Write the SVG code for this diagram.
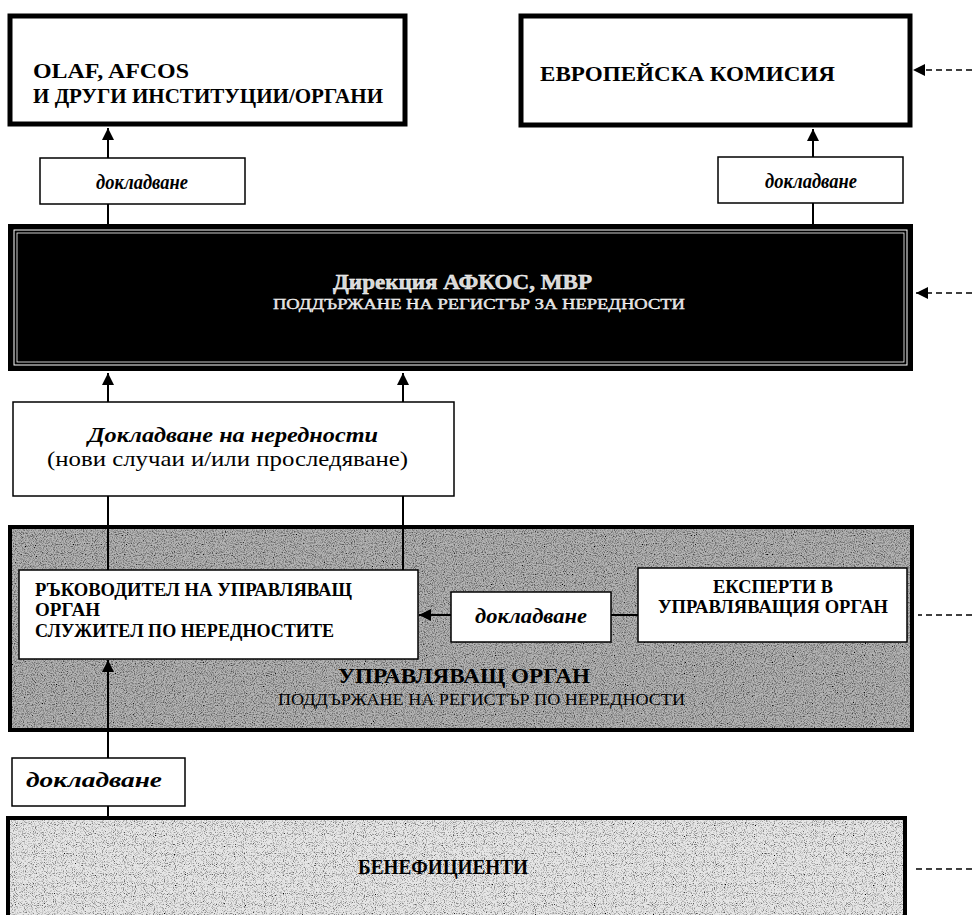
<svg xmlns="http://www.w3.org/2000/svg" width="972" height="915" viewBox="0 0 972 915">
<defs>
<style>
.t{font-family:"Liberation Serif","Times New Roman",serif;fill:#000}
.b{font-weight:bold}
.i{font-style:italic;font-weight:bold}
.box{fill:#fff;stroke:#000;stroke-width:1.5}
.thick{fill:#fff;stroke:#000;stroke-width:5}
.ln{stroke:#000;stroke-width:2;fill:none}
.dash{stroke:#000;stroke-width:1.5;stroke-dasharray:6,4;fill:none}
.w{fill:#d8d8d8;stroke:#fff;stroke-width:0.4}
</style>
<marker id="ahs" viewBox="0 0 10 10" refX="10" refY="5" markerWidth="12" markerHeight="12" orient="auto" markerUnits="userSpaceOnUse">
<path d="M0,0 L10,5 L0,10 z" fill="#000"/>
</marker>
<filter id="noiseDark" x="0" y="0" width="1" height="1">
<feTurbulence type="fractalNoise" baseFrequency="0.9" numOctaves="2" seed="3" result="n"/>
<feColorMatrix in="n" type="matrix" values="0 0 0 0 0  0 0 0 0 0  0 0 0 0 0  0 0 0 -2.2 1.3" result="m"/>
<feComposite in="m" in2="SourceGraphic" operator="in" result="c"/>
<feMerge><feMergeNode in="SourceGraphic"/><feMergeNode in="c"/></feMerge>
</filter>
<filter id="noiseLight" x="0" y="0" width="1" height="1">
<feTurbulence type="fractalNoise" baseFrequency="1.1" numOctaves="1" seed="7" result="n"/>
<feColorMatrix in="n" type="matrix" values="0 0 0 0 0  0 0 0 0 0  0 0 0 0 0  0 0 0 -3 1.55" result="m"/>
<feComposite in="m" in2="SourceGraphic" operator="in" result="c"/>
<feMerge><feMergeNode in="SourceGraphic"/><feMergeNode in="c"/></feMerge>
</filter>
</defs>
<rect width="972" height="915" fill="#fff"/>

<g id="olaf">
<rect class="thick" x="10" y="16" width="395" height="108"/>
<text class="t b" x="33" y="78" font-size="22" textLength="156" lengthAdjust="spacingAndGlyphs">OLAF, AFCOS</text>
<text class="t b" x="33" y="103" font-size="22" textLength="350" lengthAdjust="spacingAndGlyphs">И ДРУГИ ИНСТИТУЦИИ/ОРГАНИ</text>
</g>

<g id="ek">
<rect class="thick" x="521" y="16" width="389" height="109"/>
<text class="t b" x="540" y="81" font-size="22" textLength="295" lengthAdjust="spacingAndGlyphs">ЕВРОПЕЙСКА КОМИСИЯ</text>
</g>

<g id="rep-left">
<rect class="box" x="40" y="158" width="205" height="46"/>
<text class="t i" x="142" y="189" font-size="20" text-anchor="middle" textLength="92" lengthAdjust="spacingAndGlyphs">докладване</text>
</g>

<g id="rep-right">
<rect class="box" x="718" y="157" width="185" height="46"/>
<text class="t i" x="811" y="188" font-size="20" text-anchor="middle" textLength="92" lengthAdjust="spacingAndGlyphs">докладване</text>
</g>

<g id="afkos">
<rect x="8" y="224" width="905" height="147" fill="#000"/>
<rect x="14" y="230" width="893" height="135" fill="none" stroke="#fff" stroke-width="1"/>
<rect x="17" y="233" width="887" height="129" fill="none" stroke="#fff" stroke-width="0.8"/>
<text class="t b w" x="333" y="289" font-size="21" textLength="259" lengthAdjust="spacingAndGlyphs">Дирекция АФКОС, МВР</text>
<text class="t w" x="273" y="309" font-size="15" textLength="412" lengthAdjust="spacingAndGlyphs">ПОДДЪРЖАНЕ НА РЕГИСТЪР ЗА НЕРЕДНОСТИ</text>
</g>

<g id="irreg">
<rect class="box" x="13" y="402" width="441" height="94"/>
<text class="t i" x="88" y="442" font-size="22" textLength="290" lengthAdjust="spacingAndGlyphs">Докладване на нередности</text>
<text class="t" x="47" y="466" font-size="21" textLength="361" lengthAdjust="spacingAndGlyphs">(нови случаи и/или проследяване)</text>
</g>

<g id="uo">
<rect x="10" y="527" width="902" height="203" fill="#b4b4b4" filter="url(#noiseDark)"/>
<rect x="10" y="527" width="902" height="203" fill="none" stroke="#000" stroke-width="4"/>
<text class="t b" x="338" y="683" font-size="21" textLength="252" lengthAdjust="spacingAndGlyphs">УПРАВЛЯВАЩ ОРГАН</text>
<text class="t" x="278" y="705" font-size="16" textLength="407" lengthAdjust="spacingAndGlyphs">ПОДДЪРЖАНЕ НА РЕГИСТЪР ПО НЕРЕДНОСТИ</text>
</g>

<g id="head">
<rect class="box" x="19" y="570" width="399" height="89"/>
<text class="t b" x="35" y="596" font-size="18" textLength="317" lengthAdjust="spacingAndGlyphs">РЪКОВОДИТЕЛ НА УПРАВЛЯВАЩ</text>
<text class="t b" x="35" y="616" font-size="18" textLength="65" lengthAdjust="spacingAndGlyphs">ОРГАН</text>
<text class="t b" x="35" y="637" font-size="18" textLength="299" lengthAdjust="spacingAndGlyphs">СЛУЖИТЕЛ ПО НЕРЕДНОСТИТЕ</text>
</g>

<g id="rep-mid">
<rect class="box" x="451" y="592" width="160" height="50"/>
<text class="t i" x="531" y="623" font-size="21" text-anchor="middle" textLength="112" lengthAdjust="spacingAndGlyphs">докладване</text>
</g>

<g id="experts">
<rect class="box" x="638" y="568" width="269" height="74"/>
<text class="t b" x="773" y="593" font-size="18" text-anchor="middle" textLength="120" lengthAdjust="spacingAndGlyphs">ЕКСПЕРТИ В</text>
<text class="t b" x="773" y="613" font-size="18" text-anchor="middle" textLength="230" lengthAdjust="spacingAndGlyphs">УПРАВЛЯВАЩИЯ ОРГАН</text>
</g>

<g id="rep-bottom">
<rect class="box" x="12" y="758" width="173" height="48"/>
<text class="t i" x="94" y="787" font-size="21" text-anchor="middle" textLength="136" lengthAdjust="spacingAndGlyphs">докладване</text>
</g>

<g id="benef">
<rect x="8" y="818" width="897" height="110" fill="#e6e6e6" filter="url(#noiseLight)"/>
<rect x="8" y="818" width="897" height="110" fill="none" stroke="#000" stroke-width="4"/>
<text class="t b" x="358" y="874" font-size="21" textLength="170" lengthAdjust="spacingAndGlyphs">БЕНЕФИЦИЕНТИ</text>
</g>

<g id="connectors">
<line class="ln" x1="108" y1="158" x2="108" y2="128" marker-end="url(#ahs)"/>
<line class="ln" x1="108" y1="204" x2="108" y2="224"/>
<line class="ln" x1="813" y1="157" x2="813" y2="129" marker-end="url(#ahs)"/>
<line class="ln" x1="813" y1="203" x2="813" y2="224"/>
<line class="ln" x1="108" y1="402" x2="108" y2="373" marker-end="url(#ahs)"/>
<line class="ln" x1="403" y1="402" x2="403" y2="373" marker-end="url(#ahs)"/>
<line class="ln" x1="108" y1="496" x2="108" y2="570"/>
<line class="ln" x1="403" y1="496" x2="403" y2="570"/>
<line class="ln" x1="451" y1="615" x2="419" y2="615" marker-end="url(#ahs)"/>
<line class="ln" x1="611" y1="615" x2="638" y2="615"/>
<line class="ln" x1="108" y1="758" x2="108" y2="660" marker-end="url(#ahs)"/>
<line class="ln" x1="108" y1="806" x2="108" y2="818"/>
<line class="dash" x1="972" y1="70" x2="913" y2="70"/>
<path d="M913,70 L925,64 L925,76 z" fill="#000"/>
<line class="dash" x1="972" y1="293" x2="916" y2="293"/>
<path d="M916,293 L928,287 L928,299 z" fill="#000"/>
<line class="dash" x1="972" y1="615" x2="918" y2="615"/>
<line class="dash" x1="972" y1="869" x2="912" y2="869"/>
</g>
</svg>
